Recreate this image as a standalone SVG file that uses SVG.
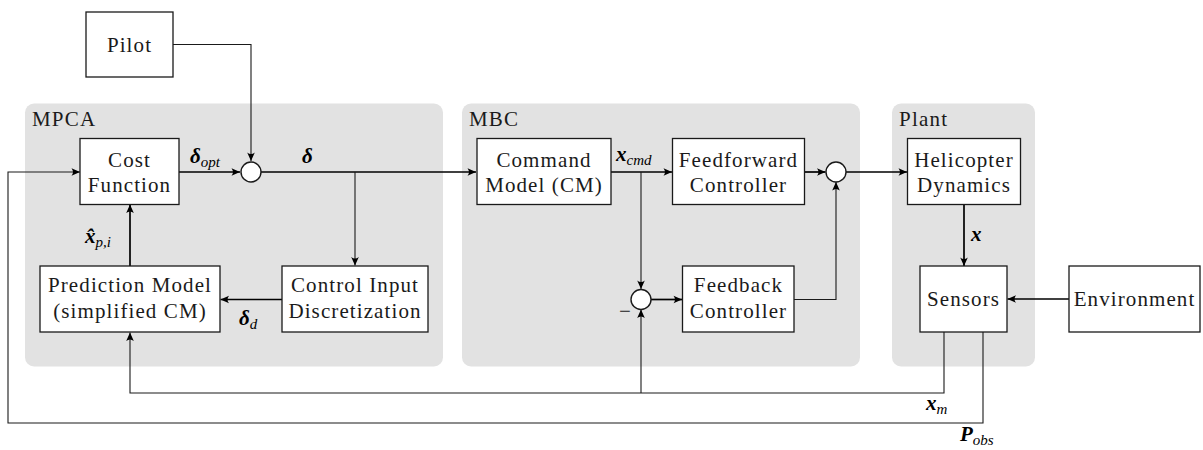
<svg xmlns="http://www.w3.org/2000/svg" width="1203" height="450" viewBox="0 0 1203 450" font-family="Liberation Serif, DejaVu Serif, Noto Serif, serif">
<style>
.panel{fill:#e2e2e2;stroke:none}
.box{fill:#fff;stroke:#1a1a1a;stroke-width:1.3}
.sum{fill:#fff;stroke:#1a1a1a;stroke-width:1.4}
.t{font-size:21px;letter-spacing:1.1px;fill:#1a1a1a;text-anchor:middle}
.title{font-size:21px;letter-spacing:1.2px;fill:#1a1a1a}
.m{font-size:21px;font-style:italic;font-weight:bold;fill:#000}
.s{font-size:15px;font-weight:normal;font-style:italic}
.thick{fill:none;stroke:#000;stroke-width:1.7}
.thin{fill:none;stroke:#1a1a1a;stroke-width:1.1}
</style>
<defs>
<marker id="a" markerUnits="userSpaceOnUse" markerWidth="12" markerHeight="12" viewBox="-10 -6 12 12" refX="0" refY="0" orient="auto">
<path d="M0,0 L-8.5,-3.8 Q-5.5,0 -8.5,3.8 Z" fill="#000"/>
</marker>
</defs>

<g id="panel-mpca"><rect class="panel" x="25" y="103.5" width="418" height="263" rx="9"/><text class="title" x="32" y="126">MPCA</text></g>
<g id="panel-mbc"><rect class="panel" x="462" y="103.5" width="398" height="263" rx="9"/><text class="title" x="469" y="126">MBC</text></g>
<g id="panel-plant"><rect class="panel" x="892" y="103.5" width="143" height="263" rx="9"/><text class="title" x="899" y="126">Plant</text></g>

<g id="connectors">
<path class="thin" d="M173,44.5 H251 V161" marker-end="url(#a)"/>
<path class="thick" d="M179,172 H240" marker-end="url(#a)"/>
<path class="thick" d="M261,172 H476" marker-end="url(#a)"/>
<path class="thin" d="M355,172 V265.5" marker-end="url(#a)"/>
<path class="thick" d="M282,299.5 H220.5" marker-end="url(#a)"/>
<path class="thick" d="M130,266 V204.5" marker-end="url(#a)"/>
<path class="thick" d="M611,172 H672" marker-end="url(#a)"/>
<path class="thin" d="M641,172 V289" marker-end="url(#a)"/>
<path class="thick" d="M651,299.5 H682" marker-end="url(#a)"/>
<path class="thin" d="M794,299.5 H836 V182" marker-end="url(#a)"/>
<path class="thick" d="M804,172 H825.5" marker-end="url(#a)"/>
<path class="thick" d="M846,172 H907" marker-end="url(#a)"/>
<path class="thick" d="M964,204.5 V266" marker-end="url(#a)"/>
<path class="thick" d="M1069,299 H1007.5" marker-end="url(#a)"/>
<path class="thin" d="M944,332 V393 H130 V332.5" marker-end="url(#a)"/>
<path class="thin" d="M641,393 V309.5" marker-end="url(#a)"/>
<path class="thin" d="M983,332 V423 H8 V172 H80" marker-end="url(#a)"/>
</g>

<g id="pilot"><rect class="box" x="86" y="12" width="87" height="65"/><text class="t" x="129.5" y="52">Pilot</text></g>
<g id="cost-function"><rect class="box" x="80" y="138.5" width="99" height="66"/><text class="t" x="129.5" y="166.5">Cost</text><text class="t" x="129.5" y="191.5">Function</text></g>
<g id="sum-1"><circle class="sum" cx="251" cy="172" r="10"/></g>
<g id="prediction-model"><rect class="box" x="40" y="266" width="180" height="66"/><text class="t" x="130" y="292">Prediction Model</text><text class="t" x="130" y="318">(simplified CM)</text></g>
<g id="control-input"><rect class="box" x="282" y="266" width="146" height="66"/><text class="t" x="355" y="292">Control Input</text><text class="t" x="355" y="318">Discretization</text></g>
<g id="command-model"><rect class="box" x="477" y="138.5" width="134" height="66"/><text class="t" x="544" y="166.5">Command</text><text class="t" x="544" y="191.5">Model (CM)</text></g>
<g id="feedforward"><rect class="box" x="672.5" y="138.5" width="132" height="66"/><text class="t" x="738.5" y="166.5">Feedforward</text><text class="t" x="738.5" y="191.5">Controller</text></g>
<g id="sum-2"><circle class="sum" cx="836" cy="172" r="10"/></g>
<g id="sum-3"><circle class="sum" cx="641" cy="299.5" r="10"/><text class="t" x="625" y="318" style="letter-spacing:0">−</text></g>
<g id="feedback"><rect class="box" x="682.5" y="266" width="111.5" height="66"/><text class="t" x="738.5" y="292">Feedback</text><text class="t" x="738.5" y="318">Controller</text></g>
<g id="helicopter"><rect class="box" x="907.5" y="138.5" width="113" height="66"/><text class="t" x="964" y="166.5">Helicopter</text><text class="t" x="964" y="191.5">Dynamics</text></g>
<g id="sensors"><rect class="box" x="920" y="266" width="87" height="66"/><text class="t" x="963.5" y="306">Sensors</text></g>
<g id="environment"><rect class="box" x="1069" y="266" width="131" height="66"/><text class="t" x="1134.5" y="306">Environment</text></g>

<g id="labels">
<text class="m" x="190" y="163">δ<tspan class="s" dy="4">opt</tspan></text>
<text class="m" x="302" y="163">δ</text>
<text class="m" x="85" y="243">x̂<tspan class="s" dy="4">p,i</tspan></text>
<text class="m" x="239" y="325">δ<tspan class="s" dy="4">d</tspan></text>
<text class="m" x="616" y="161">x<tspan class="s" dy="4">cmd</tspan></text>
<text class="m" x="971" y="241">x</text>
<text class="m" x="926" y="410">x<tspan class="s" dy="4">m</tspan></text>
<text class="m" x="960" y="441">P<tspan class="s" dy="4">obs</tspan></text>
</g>
</svg>
